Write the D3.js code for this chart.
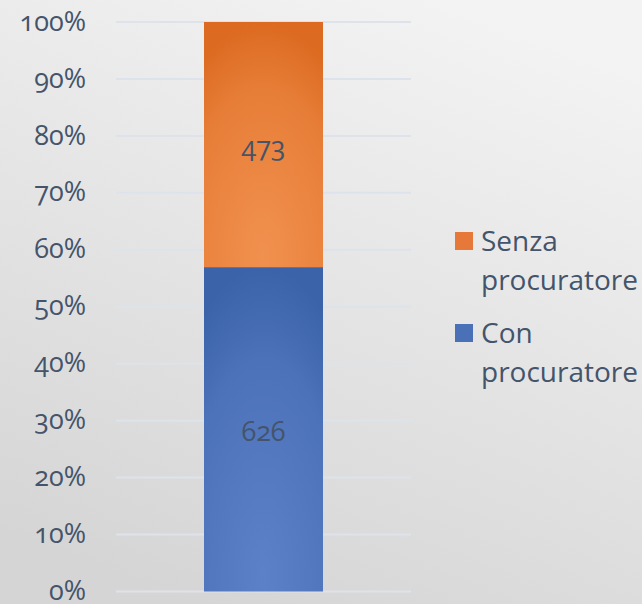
<!DOCTYPE html>
<html><head><meta charset="utf-8">
<script src="https://cdn.jsdelivr.net/npm/d3@7"></script>
<style>html,body{margin:0;padding:0;overflow:hidden}svg{display:block}</style>
</head><body><svg id="c" width="642" height="604"></svg>
<script>
const categories = ["Totale"];
const seriesNames = ["Con procuratore", "Senza procuratore"];
const conValues = [626];
const senzaValues = [473];
const tickLabels = ["0%","10%","20%","30%","40%","50%","60%","70%","80%","90%","100%"];
const tickValues = [0,0.1,0.2,0.3,0.4,0.5,0.6,0.7,0.8,0.9,1];

const svg = d3.select("#c");
const W = 642, H = 604;
const font = "'Open Sans', 'Noto Sans', sans-serif";
const textCol = "#44546a";
const defs = svg.append("defs");

const bg = defs.append("linearGradient").attr("id","bg").attr("x1","0.7").attr("y1","0").attr("x2","0.3").attr("y2","1");
bg.append("stop").attr("offset","0").attr("stop-color","#f3f3f3");
bg.append("stop").attr("offset","1").attr("stop-color","#d6d5d5");
svg.append("rect").attr("width",W).attr("height",H).attr("fill","url(#bg)");

function radial(id, light, dark){
  const g = defs.append("radialGradient").attr("id",id)
    .attr("cx","0.5").attr("cy","1").attr("r","1.0").attr("fx","0.5").attr("fy","0.95");
  g.append("stop").attr("offset","0").attr("stop-color",light);
  g.append("stop").attr("offset","0.7").attr("stop-color",d3.interpolateRgb(light,dark)(0.5));
  g.append("stop").attr("offset","1").attr("stop-color",dark);
  return "url(#"+id+")";
}
const fills = {
  "Senza procuratore": radial("gOr","#f1914f","#dc6a20"),
  "Con procuratore": radial("gBl","#5d81c9","#3a63a9")
};
const legendFills = {
  "Senza procuratore": "#e6793a",
  "Con procuratore": "#4a70b8"
};

const y = d3.scaleLinear().domain([0,1]).range([591.5,22]);
const x = d3.scaleBand().domain(categories).range([116,411]).paddingInner(0.6).paddingOuter(0.3);

// gridlines
svg.append("g").selectAll("line").data(tickValues).join("line")
  .attr("x1",116).attr("x2",411)
  .attr("y1",d=>y(d)).attr("y2",d=>y(d))
  .attr("stroke","#dde3ea").attr("stroke-width",2);

// axis labels
const yAxis = d3.axisLeft(y).tickValues(tickValues).tickFormat((d,i)=>tickLabels[i]).tickSize(0).tickPadding(30);
const ag = svg.append("g").attr("transform","translate(116,0)").call(yAxis);
ag.select(".domain").remove();
ag.selectAll("text").attr("fill",textCol).attr("font-family",font).attr("font-size",27)
  .style("font-variant-numeric","oldstyle-nums").attr("dy","0.3em");

// stacked data
const rows = categories.map((c,i)=>({cat:c,"Con procuratore":conValues[i],"Senza procuratore":senzaValues[i]}));
const stack = d3.stack().keys(seriesNames).offset(d3.stackOffsetExpand);
const stacked = stack(rows);

const bw = 119;
stacked.forEach(s=>{
  s.forEach((d,i)=>{
    const cx = x(d.data.cat) + x.bandwidth()/2;
    svg.append("rect").attr("x",cx-bw/2).attr("width",bw)
      .attr("y",y(d[1])).attr("height",y(d[0])-y(d[1]))
      .attr("fill",fills[s.key]);
    svg.append("text").attr("x",cx).attr("y",(y(d[0])+y(d[1]))/2 + 2)
      .attr("text-anchor","middle").attr("dy","0.35em")
      .attr("fill",textCol).attr("font-family",font).attr("font-size",27)
      .style("font-variant-numeric","oldstyle-nums")
      .text(d.data[s.key]);
  });
});

// legend
const legendItems = [
  {key:"Senza procuratore", lines:["Senza","procuratore"], y:241},
  {key:"Con procuratore", lines:["Con","procuratore"], y:333}
];
legendItems.forEach(it=>{
  svg.append("rect").attr("x",455).attr("y",it.y-9).attr("width",18).attr("height",18).attr("fill",legendFills[it.key]);
  it.lines.forEach((l,j)=>{
    svg.append("text").attr("x",481).attr("y",it.y + j*39).attr("dy","0.35em")
      .attr("fill",textCol).attr("font-family",font).attr("font-size",28).text(l);
  });
});
</script></body></html>
